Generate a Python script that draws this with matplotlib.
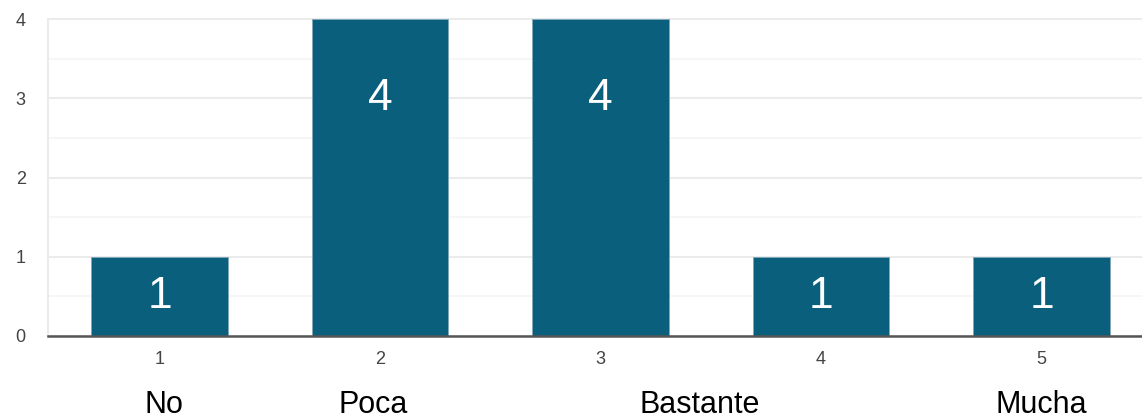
import matplotlib
matplotlib.use("Agg")
import matplotlib.pyplot as plt
import matplotlib.transforms as mtransforms

plt.rcParams['font.family'] = ['Liberation Sans', 'DejaVu Sans']

# data
categories = [1, 2, 3, 4, 5]
counts = [1, 4, 4, 1, 1]
scale_labels = ["No", "Poca", "Bastante", "Mucha"]
scale_label_pos = [1.02, 1.97, 3.45, 5.0]

bar_color = "#0a5f7c"

fig = plt.figure(figsize=(11.42, 4.18), dpi=100)
ax = fig.add_axes([48 / 1142, 1 - 336 / 418, 1 - 48 / 1142, (336 - 19) / 418])

ax.bar(categories, counts, width=0.62, color=bar_color,
       edgecolor="#7fa9bb", linewidth=0.6, zorder=3)

# value labels inside bars
for c, v in zip(categories, counts):
    ypos = max(v - 1, v / 2)
    ax.text(c, ypos, str(v), ha="center", va="center", color="white",
            fontsize=32, zorder=4)

ax.set_xlim(0.494, 5.456)
ax.set_ylim(0, 4)
ax.set_yticks([0, 1, 2, 3, 4])
ax.set_yticks([0.5, 1.5, 2.5, 3.5], minor=True)
ax.set_xticks(categories)
ax.grid(axis="y", which="major", color="#ebebeb", linewidth=1.5, zorder=0)
ax.grid(axis="y", which="minor", color="#f5f5f5", linewidth=1.2, zorder=0)
for ln in ax.get_ygridlines():
    ln.set_clip_on(False)

for s in ["top", "right"]:
    ax.spines[s].set_visible(False)
ax.spines["left"].set_color("#ebebeb")
ax.spines["left"].set_linewidth(1.5)
ax.spines["bottom"].set_color("#555555")
ax.spines["bottom"].set_linewidth(1.8)
ax.spines["bottom"].set_zorder(5)

ax.tick_params(axis="both", which="both", length=0, labelsize=13,
               labelcolor="#444444")
ax.tick_params(axis="y", pad=16)
ax.tick_params(axis="x", pad=11)

trans = mtransforms.blended_transform_factory(ax.transData, fig.transFigure)
for lab, xp in zip(scale_labels, scale_label_pos):
    ax.text(xp, 1 - 413 / 418, lab, transform=trans, ha="center", va="baseline",
            fontsize=22, color="black")

fig.savefig("out.png", dpi=100)
